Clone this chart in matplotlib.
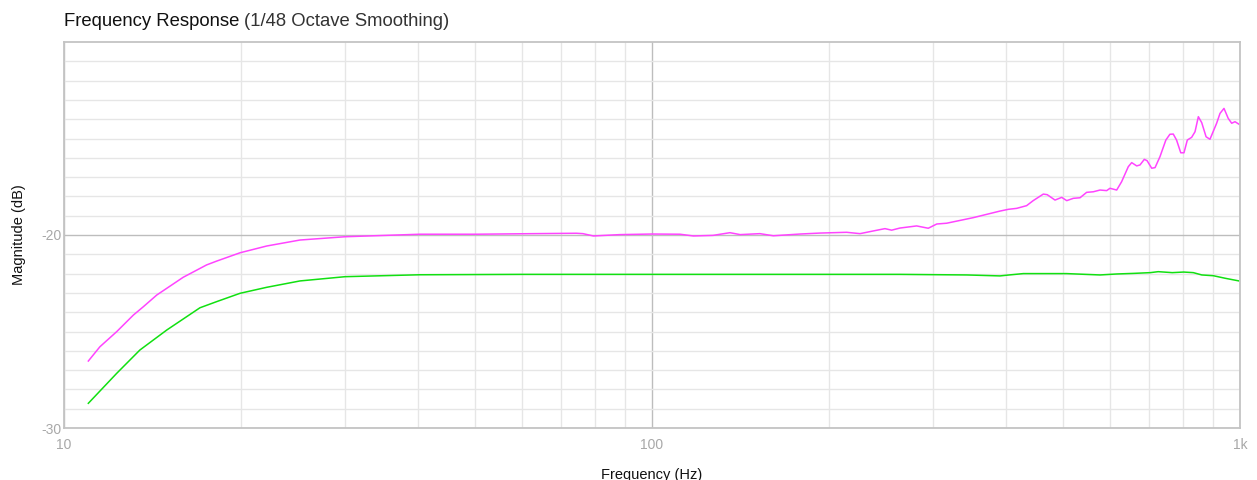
import matplotlib
matplotlib.use("Agg")
import matplotlib.pyplot as plt
from matplotlib.ticker import FixedLocator, NullFormatter, FixedFormatter

# ---- data ----
mag_f = [11.0, 11.51, 12.29, 13.12, 13.64, 14.38, 15.95, 17.48, 18.19, 19.93, 22.12, 25.2,
         30.06, 40.3, 50.3, 62.8, 74.4, 76.3, 79.5, 88.2, 100, 111.6, 117.6, 127, 135.7,
         141.2, 152.6, 160.8, 178.5, 193, 214.3, 225.8, 237.9, 249, 255.6, 264, 281.9,
         295, 305, 317, 352, 390.7, 403.6, 417, 433.6, 444.9, 462.9, 470, 484.6, 497.5,
         507.4, 520.6, 534.5, 548.5, 563.1, 578, 593.3, 601, 617, 629, 645.7, 654.3,
         667.3, 676, 687.5, 695, 707.7, 717, 731, 748, 760, 770, 780, 793, 803, 813.6,
         827.5, 838.5, 849.5, 860.8, 875.6, 889, 912.6, 924.7, 939.2, 955, 968, 980.6, 996]
mag_db = [-26.53, -25.79, -25.01, -24.15, -23.72, -23.11, -22.19, -21.55, -21.35, -20.92,
          -20.57, -20.26, -20.09, -19.96, -19.96, -19.93, -19.91, -19.93, -20.05, -19.98,
          -19.95, -19.96, -20.05, -20.02, -19.88, -19.98, -19.93, -20.04, -19.95, -19.90,
          -19.86, -19.93, -19.79, -19.67, -19.75, -19.64, -19.53, -19.65, -19.43, -19.39,
          -19.10, -18.76, -18.67, -18.62, -18.48, -18.22, -17.88, -17.91, -18.19, -18.05,
          -18.22, -18.10, -18.07, -17.79, -17.76, -17.67, -17.70, -17.58, -17.67, -17.24,
          -16.46, -16.25, -16.42, -16.37, -16.08, -16.15, -16.54, -16.51, -15.94, -15.08,
          -14.78, -14.77, -15.08, -15.74, -15.74, -15.08, -14.94, -14.65, -13.87, -14.18,
          -14.91, -15.04, -14.21, -13.70, -13.44, -13.96, -14.21, -14.13, -14.26]

grn_f = [11.0, 12.29, 13.46, 14.96, 16.17, 17.03, 18.19, 19.93, 22.12, 25.2, 30.06, 40.3,
         60, 100, 200, 264, 343, 390.7, 405, 428, 507, 578, 617, 658, 704, 726, 767, 802,
         833, 861, 901, 943, 996]
grn_db = [-28.72, -27.17, -25.96, -24.92, -24.23, -23.77, -23.45, -23.02, -22.71, -22.38,
          -22.16, -22.06, -22.04, -22.04, -22.04, -22.04, -22.07, -22.12, -22.07, -22.00,
          -22.00, -22.07, -22.02, -21.99, -21.95, -21.90, -21.95, -21.92, -21.95, -22.07,
          -22.11, -22.24, -22.38]

x_ticks = [10, 100, 1000]
x_labels = ["10", "100", "1k"]
y_ticks = [-30, -20]
y_labels = ["-30", "-20"]

plt.rcParams['font.family'] = ['Liberation Sans', 'DejaVu Sans']

fig = plt.figure(figsize=(12.57, 4.8), dpi=100)
ax = fig.add_axes([64/1257, 1-428/480, (1240-64)/1257, (428-42)/480])

ax.set_xscale('log')
ax.set_xlim(10, 1000)
ax.set_ylim(-30, -10)

# grid
minor_x = [m * d for d in (10, 100) for m in range(2, 10)]
ax.xaxis.set_minor_locator(FixedLocator(minor_x))
ax.xaxis.set_minor_formatter(NullFormatter())
ax.yaxis.set_minor_locator(FixedLocator([v for v in range(-29, -10) if v != -20]))
ax.grid(which='minor', color='#e6e6e6', linewidth=1.0)
ax.xaxis.set_major_locator(FixedLocator(x_ticks))
ax.xaxis.set_major_formatter(FixedFormatter(x_labels))
ax.yaxis.set_major_locator(FixedLocator(y_ticks))
ax.yaxis.set_major_formatter(FixedFormatter(y_labels))
ax.grid(which='major', color='#bdbdbd', linewidth=1.0)
ax.set_axisbelow(True)

ax.tick_params(which='both', length=0, colors='#a8a8a8', labelsize=10)
ax.tick_params(axis='x', pad=7)
ax.tick_params(axis='y', pad=2)
for s in ax.spines.values():
    s.set_color('#c4c4c4')
    s.set_linewidth(1.3)

ax.plot(mag_f, mag_db, color='#ff44ff', linewidth=1.1)
ax.plot(grn_f, grn_db, color='#11e011', linewidth=1.1)

ax.set_ylabel("Magnitude (dB)", fontsize=10.5, color='#111111', labelpad=11)
ax.set_xlabel("Frequency (Hz)", fontsize=10.5, color='#111111', labelpad=12)

t1 = fig.text(64/1257, 1-21/480, "Frequency Response", fontsize=13.3, color='#111111',
              va='center', ha='left')
fig.canvas.draw()
bb = t1.get_window_extent(renderer=fig.canvas.get_renderer())
fig.text((bb.x1 + 5)/1257, 1-21/480, "(1/48 Octave Smoothing)", fontsize=13.3,
         color='#333333', va='center', ha='left')

fig.savefig("out.png", dpi=100)
